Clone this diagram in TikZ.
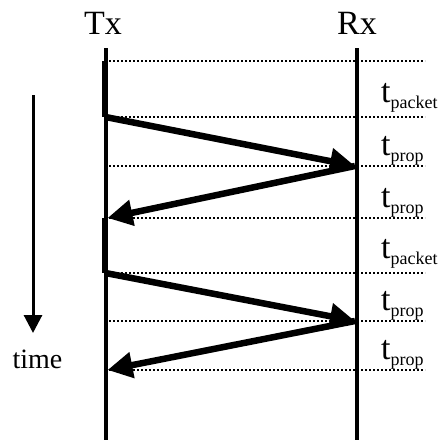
\documentclass[tikz,border=0pt]{standalone}
\usepackage{fontspec}
\setmainfont{Liberation Serif}
\usetikzlibrary{arrows.meta}

\newcommand{\tsub}[1]{t\raisebox{-6pt}{\fontsize{18}{18}\selectfont #1}}

\begin{document}
\begin{tikzpicture}[x=1pt, y=-1pt,
    station/.style={line width=4pt},
    packetbar/.style={line width=5.5pt},
    dotline/.style={line width=2pt, dash pattern=on 2pt off 2pt},
    msg/.style={line width=6.5pt, -{Triangle[length=25pt,width=25pt]}},
    lbl/.style={inner sep=0pt, font=\fontsize{34}{34}\selectfont}]
  \useasboundingbox (0,0) rectangle (439,440);
  % stations
  \node[lbl, anchor=base] (tx) at (103,34) {Tx};
  \node[lbl, anchor=base] (rx) at (357,34) {Rx};
  \draw[station] (105.5,48) -- (105.5,440);
  \draw[station] (357,48) -- (357,440);
  % interval marks
  \foreach \y in {61,117,166,218,273,321,370}
    \draw[dotline] (109,\y) -- (425,\y);
  \foreach \y/\s [count=\i] in {102/packet,155/prop,207/prop,258/packet,310/prop,359/prop}
    \node[inner sep=0pt, anchor=base west, font=\fontsize{34}{34}\selectfont] (int\i) at (381,\y) {\tsub{\s}};
  % packets being sent
  \draw[packetbar] (104.8,61) -- (104.8,117);
  \draw[packetbar] (104.8,218) -- (104.8,273);
  \coordinate (tx1) at (105.5,117);
  \coordinate (rx1) at (355,166);
  \coordinate (tx2) at (107.5,218);
  \coordinate (tx3) at (105.5,273);
  \coordinate (rx2) at (355,321);
  \coordinate (tx4) at (107.5,370);
  \draw[msg] (tx1) -- (rx1);
  \draw[msg] (rx1) -- (tx2);
  \draw[msg] (tx3) -- (rx2);
  \draw[msg] (rx2) -- (tx4);
  % time axis
  \coordinate (tstart) at (33,95);
  \coordinate (tend) at (33,333);
  \draw[line width=3pt, -{Triangle[length=18pt,width=18pt]}] (tstart) -- (tend);
  \node[inner sep=0pt, anchor=base, font=\fontsize{28}{28}\selectfont] (time) at (37.5,368) {time};
\end{tikzpicture}
\end{document}
